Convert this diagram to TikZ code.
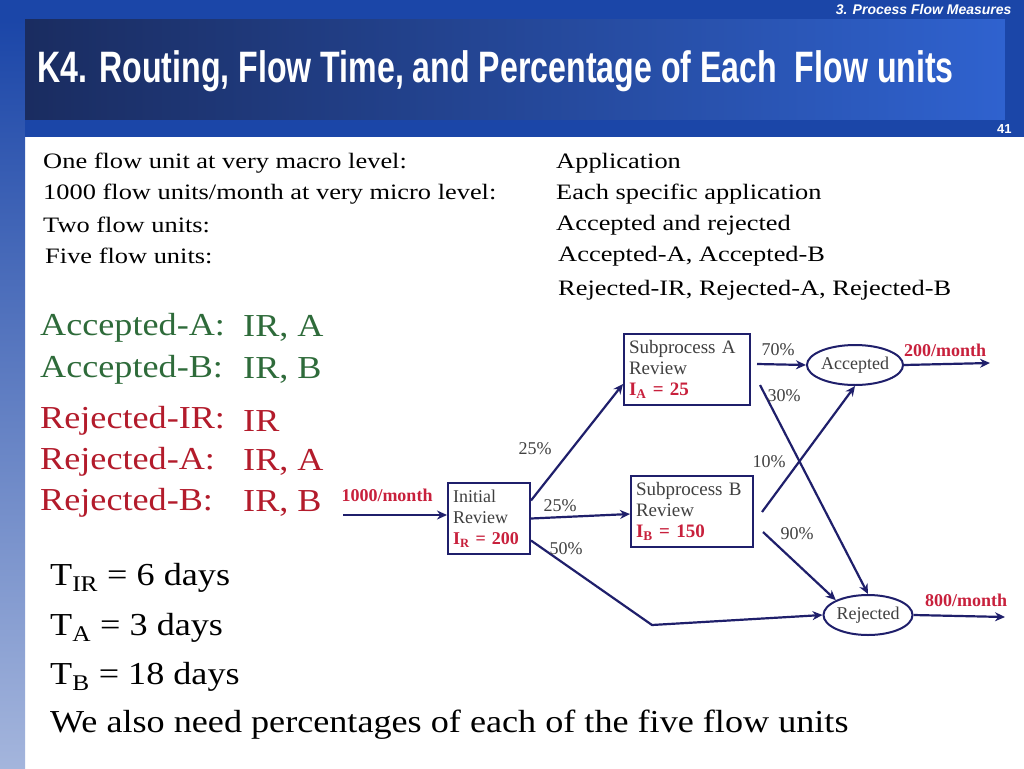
\documentclass[tikz,border=0pt]{standalone}
\usepackage{fontspec}
\setmainfont{Liberation Serif}
\newfontfamily\hfont{Liberation Sans}
\usetikzlibrary{arrows.meta,shapes.geometric}
\definecolor{navy}{HTML}{1F1F6B}
\definecolor{lab}{HTML}{C8203C}
\definecolor{grn}{HTML}{2E6B3A}
\definecolor{rd}{HTML}{B31B2B}
\definecolor{bA}{HTML}{1A2C60}
\definecolor{bB}{HTML}{2F62CF}
\definecolor{bar}{HTML}{1B46A8}
\begin{document}
\begin{tikzpicture}[x=1pt,y=-1pt,
  txt/.style={anchor=west,inner sep=0pt,xscale=1.2,font=\fontsize{22}{22}\selectfont},
  big/.style={anchor=west,inner sep=0pt,xscale=1.13,font=\fontsize{32}{32}\selectfont},
  box/.style={draw=navy,line width=2pt,align=left,anchor=north west,inner xsep=5pt,inner ysep=3pt,font=\fontsize{19}{21}\selectfont,text=black!75},
  ell/.style={draw=navy,line width=2pt,ellipse,inner sep=0pt,font=\fontsize{18}{18}\selectfont,text=black!75,minimum width=86pt,minimum height=40pt},
  arr/.style={draw=navy,line width=2.2pt,-{Stealth[length=10pt,width=9pt]}},
  pct/.style={font=\fontsize{18}{18}\selectfont,text=black!75,inner sep=0pt},
  rate/.style={font=\bfseries\fontsize{18}{18}\selectfont,text=lab,inner sep=0pt}]
\useasboundingbox (0,0) rectangle (1024,768);
\fill[white] (0,0) rectangle (1024,768);
% header
\fill[bar] (0,0) rectangle (1024,20);
\shade[top color=bar, bottom color=white!60!bar] (0,20) rectangle (25,768);
\shade[left color=bA,right color=bB] (25,20) rectangle (1005,120);
\fill[bar] (1005,20) rectangle (1024,137);
\fill[bar] (25,120) rectangle (1005,137);
\node[anchor=east,text=white,font=\hfont\itshape\bfseries\fontsize{14}{14}\selectfont] (sec) at (1015,9) {3. Process Flow Measures};
\node[anchor=west,text=white,xscale=0.73,font=\hfont\bfseries\fontsize{44}{44}\selectfont] (title) at (35,71) {K4. Routing, Flow Time, and Percentage of Each \ Flow units};
\node[anchor=east,text=white,font=\hfont\bfseries\fontsize{13}{13}\selectfont] (pg) at (1015,129) {41};
% text rows
\node[txt] (r1) at (43,163) {One flow unit at very macro level:};
\node[txt] (r1b) at (556,163) {Application};
\node[txt] (r2) at (43,194) {1000 flow units/month at very micro level:};
\node[txt] (r2b) at (556,194) {Each specific application};
\node[txt] (r3) at (43,225) {Two flow units:};
\node[txt] (r3b) at (556,225) {Accepted and rejected};
\node[txt] (r4) at (45,256) {Five flow units:};
\node[txt] (r4b) at (558,256) {Accepted-A, Accepted-B};
\node[txt] (r5b) at (558,290) {Rejected-IR, Rejected-A, Rejected-B};
% routes
\node[big,text=grn] (g1) at (40,328) {Accepted-A:};
\node[big,text=grn] (g1b) at (243,328) {IR, A};
\node[big,text=grn] (g2) at (40,370) {Accepted-B:};
\node[big,text=grn] (g2b) at (243,370) {IR, B};
\node[big,text=rd] (q1) at (40,421) {Rejected-IR:};
\node[big,text=rd] (q1b) at (243,421) {IR};
\node[big,text=rd] (q2) at (40,462) {Rejected-A:};
\node[big,text=rd] (q2b) at (243,462) {IR, A};
\node[big,text=rd] (q3) at (40,503) {Rejected-B:};
\node[big,text=rd] (q3b) at (243,503) {IR, B};
\node[big] (t1) at (50,578) {T\textsubscript{IR} = 6 days};
\node[big] (t2) at (50,628) {T\textsubscript{A} = 3 days};
\node[big] (t3) at (50,677) {T\textsubscript{B} = 18 days};
\node[big] (t4) at (50,725) {We also need percentages of each of the five flow units};
% diagram
\node[box,text width=116pt,minimum height=71pt] (A) at (623,333) {Subprocess A\\Review\\{\color{lab}\bfseries I\textsubscript{A} = 25}};
\node[box,text width=72pt,minimum height=71pt,font=\fontsize{18}{21}\selectfont] (IR) at (447,482) {Initial\\Review\\{\color{lab}\bfseries I\textsubscript{R} = 200}};
\node[box,text width=112pt,minimum height=71pt] (B) at (630,475) {Subprocess B\\Review\\{\color{lab}\bfseries I\textsubscript{B} = 150}};
\node[ell] (acc) at (855,365) {Accepted};
\node[ell] (rej) at (868,615) {Rejected};
\coordinate (in) at (343,515);
\coordinate (outA) at (990,363);
\coordinate (outR) at (1005,617);
\coordinate (bend) at (652,625);
\draw[arr] (in) -- (IR.west |- in);
\node[rate] (l1000) at (387,495) {1000/month};
\draw[arr] (acc.east) -- (outA);
\node[rate] (l200) at (945,350) {200/month};
\draw[arr] (rej.east) -- (outR);
\node[rate] (l800) at (966,600) {800/month};
\draw[arr] ([yshift=18pt]IR.east) -- ([yshift=22pt]A.south west);
\node[pct] (p1) at (535,449) {25\%};
\draw[arr] (IR.east) -- (B.west |- {(0,514)});
\node[pct] (p2) at (560,506) {25\%};
\draw[arr] ([yshift=-22pt]IR.east) -- (bend) -- (rej.west);
\node[pct] (p3) at (566,549) {50\%};
\draw[arr] (757,364) -- (acc.west);
\node[pct] (p4) at (778,350) {70\%};
\draw[arr] (760,385) -- (rej.north);
\node[pct] (p5) at (784,396) {30\%};
\draw[arr] (762,512) -- (acc.south);
\node[pct] (p6) at (769,462) {10\%};
\draw[arr] (763,532) -- (rej.north west);
\node[pct] (p7) at (797,534) {90\%};
\end{tikzpicture}
\end{document}
